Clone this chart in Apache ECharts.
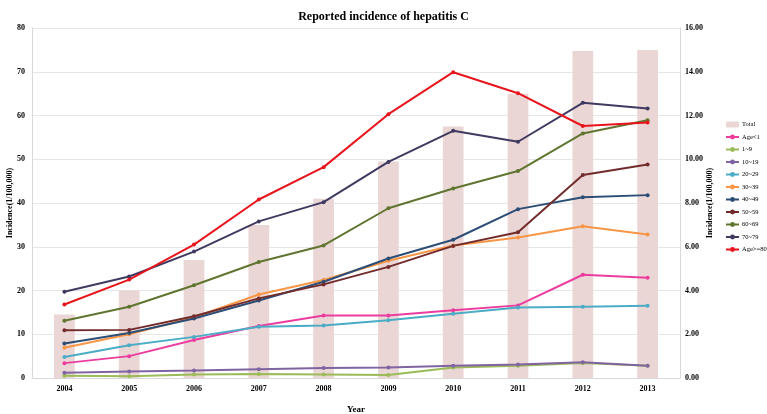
<!DOCTYPE html>
<html>
<head>
<meta charset="utf-8">
<script src="https://cdn.jsdelivr.net/npm/echarts@6/dist/echarts.min.js"></script>
<style>
  html, body {margin: 0; padding: 0; background: #fff;}
  #chart {width: 767px; height: 414px;}
</style>
</head>
<body>
<div id="chart"></div>
<script>
const years = ['2004', '2005', '2006', '2007', '2008', '2009', '2010', '2011', '2012', '2013'];

// Total (right axis)
const total = [2.9, 4.0, 5.4, 7.0, 8.2, 9.9, 11.5, 13.0, 14.95, 15.0];

// age groups (left axis)
const ageLt1 = [3.4, 5.0, 8.7, 11.9, 14.3, 14.3, 15.5, 16.6, 23.6, 22.9];
const age1to9 = [0.5, 0.4, 0.8, 0.9, 0.8, 0.7, 2.4, 2.8, 3.4, 2.8];
const age10to19 = [1.2, 1.5, 1.7, 2.0, 2.3, 2.4, 2.8, 3.1, 3.6, 2.8];
const age20to29 = [4.8, 7.5, 9.4, 11.7, 12.0, 13.2, 14.7, 16.1, 16.3, 16.5];
const age30to39 = [6.9, 10.0, 13.9, 19.1, 22.4, 26.8, 30.3, 32.1, 34.7, 32.8];
const age40to49 = [7.9, 10.3, 13.6, 17.7, 22.0, 27.3, 31.6, 38.6, 41.3, 41.8];
const age50to59 = [10.9, 11.0, 14.1, 18.2, 21.4, 25.4, 30.2, 33.3, 46.4, 48.8];
const age60to69 = [13.1, 16.3, 21.2, 26.5, 30.3, 38.8, 43.3, 47.3, 55.9, 58.9];
const age70to79 = [19.7, 23.2, 28.9, 35.8, 40.2, 49.4, 56.5, 54.0, 62.9, 61.6];
const age80up = [16.8, 22.5, 30.5, 40.8, 48.2, 60.3, 69.9, 65.1, 57.6, 58.4];

const lineNames = ['Age<1', '1~9', '10~19', '20~29', '30~39', '40~49', '50~59', '60~69', '70~79', 'Age>=80'];
const lineData = [ageLt1, age1to9, age10to19, age20to29, age30to39, age40to49, age50to59, age60to69, age70to79, age80up];
const lineColors = ['#ec3d9f', '#9bbb59', '#8064a2', '#4bacc6', '#f79646', '#2c4d75', '#722b2b', '#5f7530', '#3f3a60', '#e8141c'];

const font = '"Liberation Serif", "Times New Roman", serif';

let series = [{
  name: 'Total',
  type: 'bar',
  yAxisIndex: 1,
  barWidth: '32%',
  itemStyle: {color: '#ebd6d6'},
  data: total
}];

lineNames.forEach(function (name, i) {
  series.push({
    name: name,
    type: 'line',
    data: lineData[i],
    symbol: 'circle',
    symbolSize: 4,
    lineStyle: {width: 2, color: lineColors[i]},
    itemStyle: {color: lineColors[i]}
  });
});

let chart = echarts.init(document.getElementById('chart'));
chart.setOption({
  animation: false,
  textStyle: {fontFamily: font},
  title: {
    text: 'Reported incidence of hepatitis C',
    left: 'center',
    top: 6,
    textStyle: {fontFamily: font, fontSize: 12, fontWeight: 'bold', color: '#000'}
  },
  legend: {
    orient: 'vertical',
    left: 720,
    top: 116,
    itemWidth: 13,
    itemHeight: 6,
    itemGap: 5.5,
    textStyle: {fontFamily: font, fontSize: 6.5, color: '#000', padding: [0, 0, 0, -2]},
    data: ['Total'].concat(lineNames)
  },
  grid: {left: 32, right: 87, top: 28, bottom: 36, containLabel: false, outerBoundsMode: 'none'},
  xAxis: {
    type: 'category',
    data: years,
    name: 'Year',
    nameLocation: 'middle',
    nameGap: 27,
    nameMoveOverlap: false,
    nameTextStyle: {fontFamily: font, fontSize: 9, fontWeight: 'bold', color: '#000'},
    axisLine: {lineStyle: {color: '#d9d9d9'}},
    axisTick: {show: false},
    axisLabel: {fontFamily: font, fontSize: 8, fontWeight: 'bold', color: '#000', margin: 7}
  },
  yAxis: [{
    type: 'value',
    min: 0,
    max: 80,
    interval: 10,
    name: 'Incidence(1/100,000)',
    nameLocation: 'middle',
    nameRotate: 90,
    nameGap: 18,
    nameMoveOverlap: false,
    nameTextStyle: {fontFamily: font, fontSize: 8, fontWeight: 'bold', color: '#000'},
    axisLine: {show: true, lineStyle: {color: '#d9d9d9'}},
    axisTick: {show: false},
    splitLine: {lineStyle: {color: '#e6e6e6'}},
    axisLabel: {fontFamily: font, fontSize: 8, fontWeight: 'bold', color: '#000', margin: 7}
  }, {
    type: 'value',
    min: 0,
    max: 16,
    interval: 2,
    name: 'Incidence(1/100,000)',
    nameLocation: 'middle',
    nameRotate: 90,
    nameGap: 26,
    nameMoveOverlap: false,
    nameTextStyle: {fontFamily: font, fontSize: 8, fontWeight: 'bold', color: '#000'},
    axisLine: {show: true, lineStyle: {color: '#d9d9d9'}},
    axisTick: {show: false},
    splitLine: {show: false},
    axisLabel: {
      fontFamily: font, fontSize: 8, fontWeight: 'bold', color: '#000', margin: 5,
      formatter: function (v) { return v.toFixed(2); }
    }
  }],
  series: series
});
</script>
</body>
</html>
